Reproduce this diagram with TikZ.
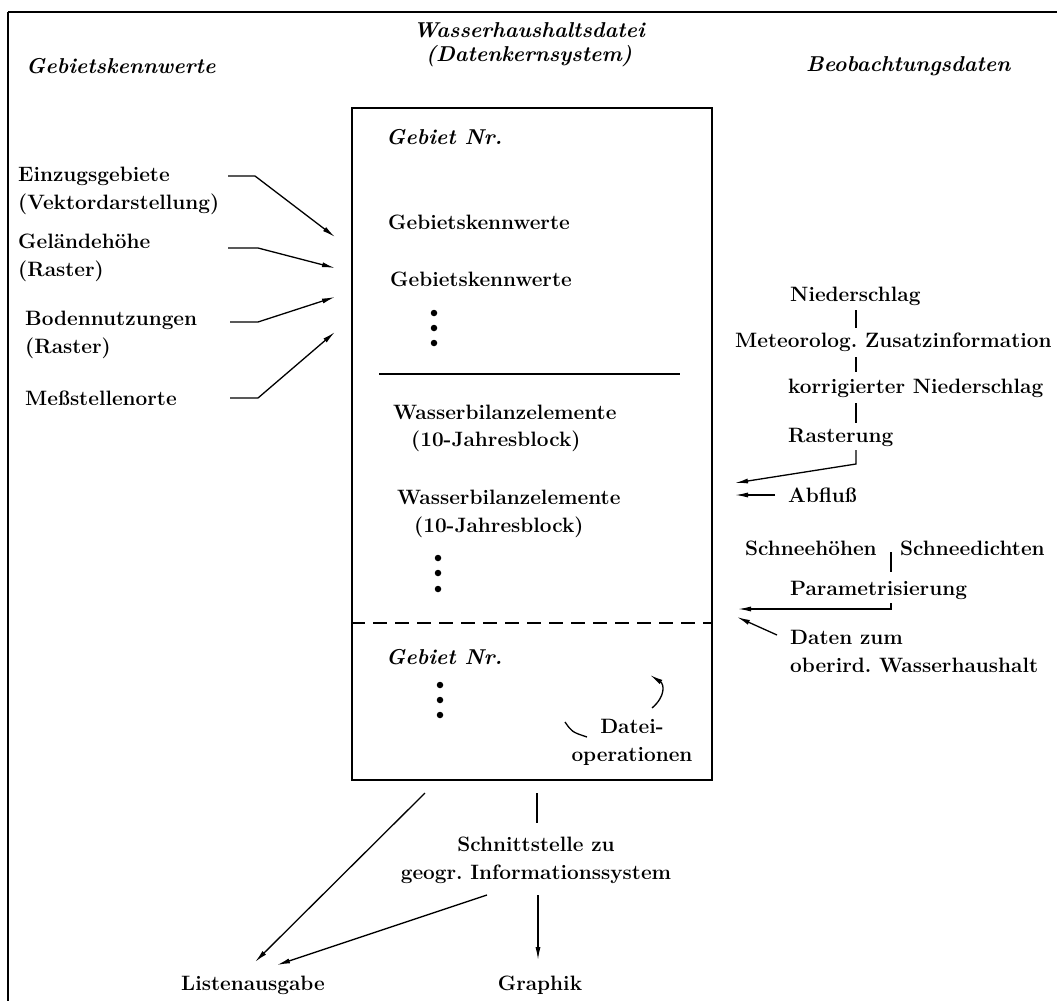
\documentclass[tikz,border=0pt]{standalone}
\usetikzlibrary{arrows.meta}
\begin{document}
\begin{tikzpicture}[x=1pt,y=-1pt,
  lbl/.style={inner sep=0pt, font=\fontsize{20.8}{28}\selectfont\bfseries},
  ital/.style={inner sep=0pt, font=\fontsize{21.5}{24}\selectfont\bfseries\itshape},
  arr/.style={-{Latex[length=13pt,width=5pt]}, line width=1.3pt},
  ln/.style={line width=1.3pt},
  dot/.style={circle, fill=black, inner sep=0pt, minimum size=6.5pt}]
\useasboundingbox (0,0) rectangle (1057,1001);
% frame
\draw[ln] (8,12) -- (1057,12);
\draw[ln] (8,12) -- (8,1001);
% headers
\node[ital, align=center] (title) at (529,45) {Wasserhaushaltsdatei\\(Datenkernsystem)};
\node[ital, anchor=west] (hleft) at (26,66) {Gebietskennwerte};
\node[ital, anchor=west] (hright) at (806,66) {Beobachtungsdaten};
% main box
\node[draw, line width=1.4pt, minimum width=360pt, minimum height=672pt, inner sep=0pt] (box) at (532,444) {};
\node[ital, anchor=west] (g1) at (386,137) {Gebiet Nr.};
\node[lbl, anchor=west] (gk1) at (388,222) {Gebietskennwerte};
\node[lbl, anchor=west] (gk2) at (390,279) {Gebietskennwerte};
\node[dot] (d1) at (434,313) {};
\node[dot] (d2) at (434,328) {};
\node[dot] (d3) at (434,343) {};
\coordinate (s1) at (379,374);
\coordinate (s2) at (680,374);
\draw[ln] (s1) -- (s2);
\node[lbl, anchor=west] (wb1) at (393,412) {Wasserbilanzelemente};
\node[lbl, anchor=west] (jb1) at (411,441) {(10-Jahresblock)};
\node[lbl, anchor=west] (wb2) at (397,497) {Wasserbilanzelemente};
\node[lbl, anchor=west] (jb2) at (414,527) {(10-Jahresblock)};
\node[dot] (d4) at (438,558) {};
\node[dot] (d5) at (438,573) {};
\node[dot] (d6) at (438,589) {};
\draw[ln, dash pattern=on 14pt off 8pt] (box.west |- 0,623) -- (box.east |- 0,623);
\node[ital, anchor=west] (g2) at (386,657) {Gebiet Nr.};
\node[dot] (d7) at (440,685) {};
\node[dot] (d8) at (440,700) {};
\node[dot] (d9) at (440,715) {};
\node[lbl, align=center] (dop) at (632,742) {Datei-\\operationen};
\coordinate (c1a) at (652,708);
\coordinate (c1b) at (650,675);
\draw[arr] (c1a) .. controls (666,696) and (664,684) .. (c1b);
\coordinate (c2a) at (565,722);
\coordinate (c2b) at (587,737);
\draw[ln] (c2a) .. controls (572,732) .. (c2b);
% left inputs
\node[lbl, anchor=west, align=left] (ezg) at (18,191) {Einzugsgebiete\\(Vektordarstellung)};
\node[lbl, anchor=west, align=left] (gel) at (18,257.5) {Geländehöhe\\(Raster)};
\node[lbl, anchor=west, align=left] (bod) at (25,335) {Bodennutzungen\\(Raster)};
\node[lbl, anchor=west] (mess) at (25,398) {Meßstellenorte};
\coordinate (t1) at (335,237);
\coordinate (t2) at (335,268);
\coordinate (t3) at (335,297);
\coordinate (t4) at (335,332);
\draw[arr] (228,176) -- (255,176) -- (t1);
\draw[arr] (228,248) -- (258,248) -- (t2);
\draw[arr] (230,322) -- (258,322) -- (t3);
\draw[arr] (230,398) -- (258,398) -- (t4);
% right inputs
\node[lbl, anchor=west] (nied) at (790,296) {Niederschlag};
\node[lbl, anchor=west] (met) at (735,342) {Meteorolog.\ Zusatzinformation};
\node[lbl, anchor=west] (kor) at (788,388) {korrigierter Niederschlag};
\node[lbl, anchor=west] (ras) at (788,437) {Rasterung};
\draw[ln] (856,310) -- (856,328);
\draw[ln] (856,357) -- (856,372);
\draw[ln] (856,403) -- (856,423);
\coordinate (r1) at (735,483);
\draw[arr] (856,450) -- (856,464) -- (r1);
\node[lbl, anchor=west] (abf) at (788,495) {Abflu\ss};
\coordinate (r2) at (735,495);
\draw[arr] (775,495) -- (r2);
\node[lbl, anchor=west] (sh) at (745,548) {Schneehöhen};
\node[lbl, anchor=west] (sd) at (900,548) {Schneedichten};
\draw[ln] (891,552) -- (891,572);
\node[lbl, anchor=west] (par) at (790,590) {Parametrisierung};
\coordinate (r3) at (738,609);
\draw[arr] (891,603) -- (891,609) -- (r3);
\coordinate (r4) at (737,617);
\draw[arr] (777,635) -- (r4);
\node[lbl, anchor=west, align=left] (dat) at (790,651.5) {Daten zum\\oberird.\ Wasserhaushalt};
% bottom
\node[lbl, align=center] (gis) at (536,860) {Schnittstelle zu\\geogr.\ Informationssystem};
\node[lbl] (liste) at (253,985) {Listenausgabe};
\node[lbl] (graph) at (540,985) {Graphik};
\draw[arr] (425,793) -- (255,962);
\draw[ln] (537,793) -- (537,823);
\draw[arr] (487,895) -- (277,965);
\draw[arr] (538,895) -- (538,960);
\end{tikzpicture}
\end{document}
